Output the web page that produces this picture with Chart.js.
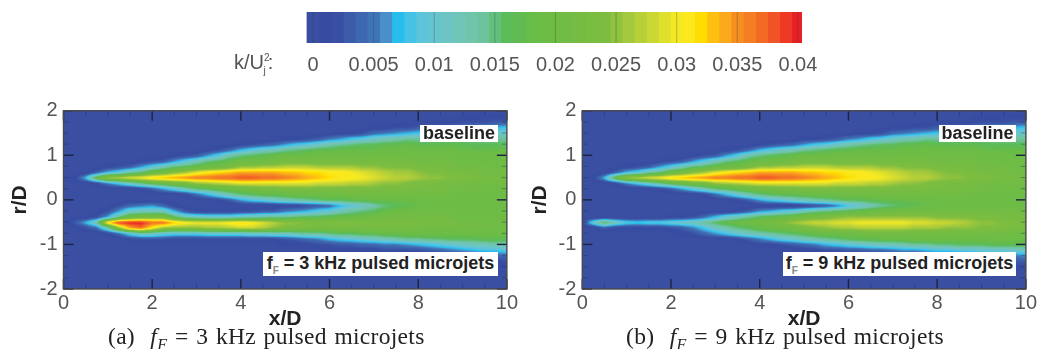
<!DOCTYPE html>
<html>
<head>
<meta charset="utf-8">
<script src="https://cdn.jsdelivr.net/npm/chart.js@4"></script>
<style>
  html, body { margin: 0; padding: 0; background: #fff; overflow: hidden; }
  #page { position: relative; width: 1039px; height: 349px; filter: blur(0.6px); font-family: "Liberation Sans", sans-serif; }
  canvas { position: absolute; }
  .tag { position: absolute; background: #fff; color: #222; font-weight: bold; font-size: 18px; line-height: 17px; text-align: center; white-space: nowrap; box-sizing: border-box; }
  .tag sub, .unit sub, .unit sup { font-size: 10px; line-height: 0; }
  .tag sub { color: #888; }
  .unit { position: absolute; left: 234px; top: 52px; font-size: 20px; line-height: 20px; color: #555; white-space: nowrap; }
  .caption { position: absolute; top: 324px; font-family: "Liberation Serif", serif; font-size: 23.5px; line-height: 24px; letter-spacing: 0.3px; word-spacing: 1.5px; color: #222; white-space: pre; }
  .caption i sub { font-size: 16px; line-height: 0; }
</style>
</head>
<body>
<div id="page">
  <canvas id="colorbar" width="1039" height="90" style="left:0;top:0"></canvas>
  <canvas id="panelA" width="520" height="259" style="left:0;top:90px"></canvas>
  <canvas id="panelB" width="519" height="259" style="left:520px;top:90px"></canvas>
  <div class="unit">k/U<sup>2</sup><sub style="margin-left:-6px">j</sub><span style="margin-left:2px">:</span></div>
  <div class="tag" style="left:420px;top:125px;width:78px;height:17px">baseline</div>
  <div class="tag" style="left:263px;top:252px;width:235px;height:24px;padding-top:3px">f<sub>F</sub> = 3 kHz pulsed microjets</div>
  <div class="tag" style="left:939px;top:125px;width:77px;height:17px">baseline</div>
  <div class="tag" style="left:783px;top:252px;width:233px;height:24px;padding-top:3px">f<sub>F</sub> = 9 kHz pulsed microjets</div>
  <div class="caption" style="left:108px">(a)  <i>f<sub>F</sub></i> = 3 kHz pulsed microjets</div>
  <div class="caption" style="left:626px">(b)  <i>f<sub>F</sub></i> = 9 kHz pulsed microjets</div>
</div>
<script>
// k/Uj^2 in units of 0.001
const columnX = [0,0.25,0.5,0.75, 1,1.25,1.5,1.75, 2,2.25,2.5,2.75, 3,3.25,3.5,3.75, 4,4.25,4.5,4.75, 5,5.25,5.5,5.75, 6,6.25,6.5,6.75, 7,7.25,7.5,7.75, 8,8.25,8.5,8.75, 9,9.25,9.5,9.75, 10];
const upperR = [2,1.875,1.75,1.625,1.5,1.375,1.25,1.125,1,0.875,0.75,0.625,0.5,0.375,0.25,0.125,0];
const lowerR = [-0.125,-0.25,-0.375,-0.5,-0.625,-0.75,-0.875,-1,-1.125,-1.25,-1.375,-1.5,-1.625,-1.75,-1.875,-2];

const baselineUpper = [
  [0,0,0,0, 0,0,0,0, 0,0,0,0, 0,0,0,0, 0,0,0,0, 0,0,0,0, 0,0,0,0, 0,0,0,0, 0,0,0,0, 0,0,0,0, 0],
  [0,0,0,0, 0,0,0,0, 0,0,0,0, 0,0,0,0, 0,0,0,0, 0,0,0,0, 0,0,0,0, 0,0,0,0, 0,0,0,0, 1,1,1,1, 1],
  [0,0,0,0, 0,0,0,0, 0,0,0,0, 0,0,0,0, 0,0,0,0, 0,0,0,0, 0,0,0,0, 0,0,0,0, 1,1,1,1, 2,2,2,3, 3],
  [0,0,0,0, 0,0,0,0, 0,0,0,0, 0,0,0,0, 0,0,0,0, 0,0,0,0, 0,0,0,0, 1,1,2,2, 3,4,4,5, 6,6,7,7, 8],
  [0,0,0,0, 0,0,0,0, 0,0,0,0, 0,0,0,0, 0,0,0,0, 0,0,0,0, 0,1,1,2, 4,5,6,7, 8,8,9,9, 10,10,11,11, 11],
  [0,0,0,0, 0,0,0,0, 0,0,0,0, 0,0,0,0, 0,0,0,0, 1,1,2,3, 5,6,8,9, 11,12,13,14, 14,14,14,14, 14,14,14,14, 14],
  [0,0,0,0, 0,0,0,0, 0,0,0,0, 0,0,0,0, 1,2,3,4, 6,8,9,11, 13,14,15,16, 16,17,17,18, 17,17,17,17, 17,16,16,16, 16],
  [0,0,0,0, 0,0,0,0, 0,0,0,0, 0,1,2,4, 7,9,11,12, 14,15,16,17, 17,18,18,18, 18,19,19,19, 19,19,19,19, 18,18,18,18, 18],
  [0,0,0,0, 0,0,0,0, 0,0,1,2, 3,6,9,13, 15,16,17,18, 19,19,19,20, 20,20,20,20, 20,20,20,20, 20,20,20,20, 19,19,19,19, 19],
  [0,0,0,0, 0,0,0,1, 2,3,6,9, 12,15,16,18, 19,20,20,21, 22,22,22,22, 22,22,22,22, 22,22,22,22, 21,21,21,21, 20,20,20,20, 20],
  [0,0,0,0, 1,2,3,6, 9,12,15,16, 18,19,20,22, 25,25,26,26, 27,27,27,26, 26,26,26,25, 25,24,24,24, 23,22,22,22, 21,21,21,20, 20],
  [0,0,0,3, 7,9,13,15, 19,21,24,26, 29,31,32,33, 34,34,34,34, 33,33,32,32, 31,31,30,29, 28,27,26,26, 25,24,24,23, 22,22,21,21, 21],
  [0,1,7,18, 26,27,29,30, 32,33,34,35, 36,36,37,37, 38,38,37,37, 36,35,34,33, 32,31,31,30, 29,28,27,27, 26,25,25,24, 24,23,22,22, 21],
  [0,0,0,1, 5,8,11,14, 17,19,21,22, 25,26,27,28, 29,29,29,29, 29,29,29,28, 28,28,27,27, 26,25,25,24, 23,23,22,22, 22,21,21,21, 21],
  [0,0,0,0, 0,0,0,1, 3,6,9,12, 15,16,18,19, 20,21,22,22, 23,23,23,23, 23,23,23,23, 23,23,23,23, 22,22,22,21, 21,21,20,20, 20],
  [0,0,0,0, 0,0,0,0, 0,0,0,1, 4,7,10,13, 15,16,17,17, 18,19,19,19, 20,20,21,21, 21,21,21,21, 21,21,21,20, 20,20,20,19, 19],
  [0,0,0,0, 0,0,0,0, 0,0,0,0, 0,0,1,3, 6,8,9,11, 12,13,14,15, 16,16,17,17, 18,18,18,19, 19,19,19,19, 19,19,19,19, 19]
];

const lower3kHz = [
  [0,0,0,0, 0,2,4,5, 6,4,1,0, 0,0,0,0, 0,0,0,0, 1,1,2,3, 4,7,9,11, 13,15,16,17, 18,18,19,19, 19,19,19,19, 19],
  [0,0,0,0, 2,6,11,12, 12,12,7,3, 1,1,1,1, 2,2,3,3, 5,6,7,9, 10,12,14,15, 16,18,19,20, 20,20,20,20, 20,20,20,20, 19],
  [0,0,0,2, 6,14,19,21, 22,22,16,12, 11,10,10,10, 11,12,13,14, 14,15,16,16, 17,18,18,19, 20,21,21,21, 21,21,21,21, 20,20,20,20, 20],
  [0,3,7,13, 32,39,40,40, 37,37,33,31, 30,30,30,31, 32,31,29,27, 25,25,24,24, 24,24,24,23, 23,23,23,23, 22,22,22,22, 21,21,21,21, 20],
  [0,0,2,4, 12,25,34,37, 31,26,25,25, 25,26,26,27, 28,28,27,25, 24,23,22,22, 22,22,22,22, 22,22,22,22, 22,21,21,21, 21,21,20,20, 20],
  [0,0,0,0, 1,4,9,12, 12,10,9,9, 9,10,10,10, 10,11,11,12, 12,13,14,14, 15,16,16,17, 17,18,18,19, 19,19,19,19, 19,19,19,19, 19],
  [0,0,0,0, 0,0,1,2, 2,2,1,1, 1,1,1,1, 1,1,1,1, 2,3,4,5, 7,8,9,10, 11,12,13,14, 14,15,15,16, 16,16,17,17, 17],
  [0,0,0,0, 0,0,0,0, 0,0,0,0, 0,0,0,0, 0,0,0,0, 1,1,1,2, 2,3,3,4, 4,5,5,6, 7,8,9,10, 11,12,12,13, 13],
  [0,0,0,0, 0,0,0,0, 0,0,0,0, 0,0,0,0, 0,0,0,0, 0,0,0,0, 1,1,1,1, 1,2,2,2, 2,3,4,5, 6,7,8,8, 9],
  [0,0,0,0, 0,0,0,0, 0,0,0,0, 0,0,0,0, 0,0,0,0, 0,0,0,0, 0,0,0,0, 0,0,0,0, 1,1,1,2, 2,3,3,4, 4],
  [0,0,0,0, 0,0,0,0, 0,0,0,0, 0,0,0,0, 0,0,0,0, 0,0,0,0, 0,0,0,0, 0,0,0,0, 0,0,0,0, 1,1,1,1, 2],
  [0,0,0,0, 0,0,0,0, 0,0,0,0, 0,0,0,0, 0,0,0,0, 0,0,0,0, 0,0,0,0, 0,0,0,0, 0,0,0,0, 0,0,0,0, 1],
  [0,0,0,0, 0,0,0,0, 0,0,0,0, 0,0,0,0, 0,0,0,0, 0,0,0,0, 0,0,0,0, 0,0,0,0, 0,0,0,0, 0,0,0,0, 0],
  [0,0,0,0, 0,0,0,0, 0,0,0,0, 0,0,0,0, 0,0,0,0, 0,0,0,0, 0,0,0,0, 0,0,0,0, 0,0,0,0, 0,0,0,0, 0],
  [0,0,0,0, 0,0,0,0, 0,0,0,0, 0,0,0,0, 0,0,0,0, 0,0,0,0, 0,0,0,0, 0,0,0,0, 0,0,0,0, 0,0,0,0, 0],
  [0,0,0,0, 0,0,0,0, 0,0,0,0, 0,0,0,0, 0,0,0,0, 0,0,0,0, 0,0,0,0, 0,0,0,0, 0,0,0,0, 0,0,0,0, 0]
];

const lower9kHz = [
  [0,0,0,0, 0,0,0,0, 0,0,0,0, 0,0,0,0, 0,0,0,0, 1,2,3,5, 8,10,12,14, 15,16,17,18, 18,19,19,19, 20,20,20,20, 20],
  [0,0,0,0, 0,0,0,0, 0,0,0,0, 0,0,1,3, 6,7,9,10, 12,14,15,16, 17,18,19,20, 20,21,21,21, 21,21,21,21, 21,21,21,21, 21],
  [0,0,0,0, 0,0,0,0, 1,1,2,4, 7,10,12,14, 16,17,18,19, 21,22,23,24, 25,25,25,25, 25,25,25,25, 24,24,24,24, 23,23,22,22, 22],
  [1,10,17,12, 9,8,9,9, 10,11,12,14, 16,18,19,20, 21,22,24,26, 27,28,28,29, 29,30,30,30, 30,30,29,29, 28,28,27,26, 25,25,24,24, 23],
  [0,0,3,1, 1,1,1,1, 2,3,5,8, 11,13,15,16, 18,19,20,21, 23,24,25,26, 26,27,27,27, 27,27,26,26, 26,25,25,25, 24,24,24,23, 23],
  [0,0,0,0, 0,0,0,0, 0,1,2,4, 6,8,10,12, 13,14,15,16, 17,18,19,19, 20,20,21,21, 21,21,21,21, 21,21,21,21, 21,21,20,20, 20],
  [0,0,0,0, 0,0,0,0, 0,0,0,0, 0,0,1,3, 5,7,9,10, 12,13,14,15, 16,17,17,18, 18,18,19,19, 19,19,19,19, 19,19,19,19, 19],
  [0,0,0,0, 0,0,0,0, 0,0,0,0, 0,0,0,0, 1,1,2,3, 4,5,7,8, 9,10,11,12, 12,13,14,14, 15,15,16,16, 16,17,17,17, 17],
  [0,0,0,0, 0,0,0,0, 0,0,0,0, 0,0,0,0, 0,0,0,0, 1,1,2,2, 3,3,4,4, 5,6,6,7, 8,8,9,9, 10,10,10,11, 11],
  [0,0,0,0, 0,0,0,0, 0,0,0,0, 0,0,0,0, 0,0,0,0, 0,0,0,0, 1,1,1,1, 1,2,2,2, 3,3,3,4, 4,5,5,5, 6],
  [0,0,0,0, 0,0,0,0, 0,0,0,0, 0,0,0,0, 0,0,0,0, 0,0,0,0, 0,0,0,0, 0,0,0,0, 1,1,1,2, 2,2,2,3, 3],
  [0,0,0,0, 0,0,0,0, 0,0,0,0, 0,0,0,0, 0,0,0,0, 0,0,0,0, 0,0,0,0, 0,0,0,0, 0,0,0,0, 1,1,1,1, 1],
  [0,0,0,0, 0,0,0,0, 0,0,0,0, 0,0,0,0, 0,0,0,0, 0,0,0,0, 0,0,0,0, 0,0,0,0, 0,0,0,0, 0,0,0,0, 0],
  [0,0,0,0, 0,0,0,0, 0,0,0,0, 0,0,0,0, 0,0,0,0, 0,0,0,0, 0,0,0,0, 0,0,0,0, 0,0,0,0, 0,0,0,0, 0],
  [0,0,0,0, 0,0,0,0, 0,0,0,0, 0,0,0,0, 0,0,0,0, 0,0,0,0, 0,0,0,0, 0,0,0,0, 0,0,0,0, 0,0,0,0, 0],
  [0,0,0,0, 0,0,0,0, 0,0,0,0, 0,0,0,0, 0,0,0,0, 0,0,0,0, 0,0,0,0, 0,0,0,0, 0,0,0,0, 0,0,0,0, 0]
];

const xTicks = [0,2,4,6,8,10];
const rTicks = [-2,-1,0,1,2];
const xMinorTicks = [0.5,1,1.5,2.5,3,3.5,4.5,5,5.5,6.5,7,7.5,8.5,9,9.5];
const rMinorTicks = [-1.75,-1.5,-1.25,-0.75,-0.5,-0.25,0.25,0.5,0.75,1.25,1.5,1.75];

const colorbarLevels = [0,1,2,3,4,5,6,7,8,9,10,11,12,13,14,15,16,17,18,19,20,21,22,23,24,25,26,27,28,29,30,31,32,33,34,35,36,37,38,39,40];
const colorbarTicks = [0,0.005,0.01,0.015,0.02,0.025,0.03,0.035,0.04];
const colorbarLabels = ['0','0.005','0.01','0.015','0.02','0.025','0.03','0.035','0.04'];

const levelColors = [
  '#3a4ea2','#374ca1','#394fa3','#3c5ca9','#3d67ae','#3f75b6','#4a8fc9','#27bdec','#45c2e5','#5ec4dc',
  '#66c4cf','#6cc5c4','#6fc5b7','#70c4ac','#6dc39e','#62c07c','#5dbc5a','#60bb52','#68bc48','#6cbc46',
  '#6ebc44','#72bc44','#76bc42','#79bd41','#7cbd40','#8fc23e','#a5c93c','#b7d038','#cbd733','#dfe02c',
  '#f2e924','#fce81c','#ffdd00','#fdc010','#faa81c','#f68f20','#f57e25','#f26a24','#f05426','#ee3a24','#e81f24'
];

const textGrey = '#555';
const rowHalf = 0.0625;
const greyStep = 6;   // one k level = 6 grey steps while the cells are on the canvas

function rowDatasets(rows, radii) {
  return rows.map(function(row, i) {
    return {
      data: columnX.map(function(x) { return {x: x, y: [radii[i] - rowHalf, radii[i] + rowHalf]}; }),
      backgroundColor: row.map(function(k) { const g = k * greyStep; return 'rgb(' + g + ',' + g + ',' + g + ')'; }),
      borderWidth: 0,
      barPercentage: 1,
      categoryPercentage: 1,
      grouped: false
    };
  });
}

function hexRgb(hex) {
  return [parseInt(hex.slice(1, 3), 16), parseInt(hex.slice(3, 5), 16), parseInt(hex.slice(5, 7), 16)];
}
const levelRgb = levelColors.map(hexRgb);

function boxPass(src, w, h, n, horizontal) {
  const out = new Float32Array(w * h);
  const half = (n - 1) / 2;
  const along = horizontal ? w : h, across = horizontal ? h : w;
  for (let c = 0; c < across; c++) {
    for (let a = 0; a < along; a++) {
      let sum = 0;
      for (let o = -half; o <= half; o++) {
        const p = Math.min(along - 1, Math.max(0, a + o));
        sum += horizontal ? src[c * w + p] : src[p * w + c];
      }
      out[horizontal ? c * w + a : a * w + c] = sum / n;
    }
  }
  return out;
}

// the cells were put down in grey through the scales, now they are smoothed
// in k itself and coloured with the contour levels, so edges follow the levels
const contourField = {
  id: 'contourField',
  afterDatasetsDraw(chart) {
    const a = chart.chartArea, ctx = chart.ctx;
    const left = Math.round(a.left), top = Math.round(a.top);
    const w = Math.round(a.right) - left, h = Math.round(a.bottom) - top;
    const img = ctx.getImageData(left, top, w, h);
    let k = new Float32Array(w * h);
    for (let i = 0; i < w * h; i++) k[i] = img.data[i * 4] / greyStep;
    k = boxPass(k, w, h, 11, true);
    k = boxPass(k, w, h, 5, false);
    k = boxPass(k, w, h, 3, true);
    k = boxPass(k, w, h, 3, false);
    for (let i = 0; i < w * h; i++) {
      const lo = Math.min(39, Math.floor(k[i])), t = Math.min(1, k[i] - lo);
      for (let c = 0; c < 3; c++) {
        img.data[i * 4 + c] = levelRgb[lo][c] + (levelRgb[lo + 1][c] - levelRgb[lo][c]) * t;
      }
      img.data[i * 4 + 3] = 255;
    }
    ctx.putImageData(img, left, top);
  }
};

function drawTick(ctx, x0, y0, x1, y1) {
  ctx.beginPath();
  ctx.moveTo(x0, y0);
  ctx.lineTo(x1, y1);
  ctx.stroke();
}

const frameTicks = {
  id: 'frameTicks',
  afterDraw(chart) {
    const a = chart.chartArea, ctx = chart.ctx, sx = chart.scales.x, sy = chart.scales.y;
    const pass = function(xs, rs, len, color, width) {
      ctx.strokeStyle = color;
      ctx.lineWidth = width;
      xs.forEach(function(v) {
        const p = sx.getPixelForValue(v);
        drawTick(ctx, p, a.top, p, a.top + len);
        drawTick(ctx, p, a.bottom, p, a.bottom - len);
      });
      rs.forEach(function(v) {
        const p = sy.getPixelForValue(v);
        drawTick(ctx, a.left, p, a.left + len, p);
        drawTick(ctx, a.right, p, a.right - len, p);
      });
    };
    ctx.save();
    pass(xMinorTicks, rMinorTicks, 5, 'rgba(30,45,90,0.4)', 1);
    pass(xTicks, rTicks, 10, '#1c2340', 1.4);
    ctx.strokeStyle = '#4a4a4a';
    ctx.lineWidth = 1.4;
    ctx.strokeRect(a.left, a.top, a.width, a.height);
    ctx.restore();
  }
};

function makePanel(id, rows, leftWidth, rightPad) {
  new Chart(document.getElementById(id), {
    type: 'bar',
    data: {
      datasets: rowDatasets(rows, upperR.concat(lowerR))
    },
    plugins: [contourField, frameTicks],
    options: {
      responsive: false,
      animation: false,
      events: [],
      layout: {padding: {top: 20.7, right: rightPad, left: 0, bottom: 0}},
      plugins: {
        legend: {display: false},
        tooltip: {enabled: false},
        title: {display: false}
      },
      scales: {
        x: {
          type: 'linear',
          offset: false,
          min: 0,
          max: 10,
          grid: {display: false, offset: false, drawTicks: false},
          border: {display: false},
          afterBuildTicks: function(s) { s.ticks = xTicks.map(function(v) { return {value: v}; }); },
          afterFit: function(s) { s.height = 60; },
          ticks: {
            autoSkip: false,
            maxRotation: 0,
            padding: 2,
            color: textGrey,
            font: {family: 'Liberation Sans', size: 20}
          },
          title: {
            display: true,
            text: 'x/D',
            color: '#222',
            font: {family: 'Liberation Sans', size: 21, weight: 'bold'},
            padding: {top: 0, bottom: 17}
          }
        },
        y: {
          type: 'linear',
          min: -2,
          max: 2,
          grid: {display: false, drawTicks: false},
          border: {display: false},
          afterBuildTicks: function(s) { s.ticks = rTicks.map(function(v) { return {value: v}; }); },
          afterFit: function(s) { s.width = leftWidth; },
          ticks: {
            padding: 6,
            color: textGrey,
            font: {family: 'Liberation Sans', size: 20}
          },
          title: {
            display: true,
            text: 'r/D',
            color: '#222',
            font: {family: 'Liberation Sans', size: 21, weight: 'bold'},
            padding: {top: 8, bottom: 0}
          }
        }
      }
    }
  });
}

makePanel('panelA', baselineUpper.concat(lower3kHz), 63.5, 11.5);
makePanel('panelB', baselineUpper.concat(lower9kHz), 62.3, 11.3);

const colorbarMarks = {
  id: 'colorbarMarks',
  afterDraw(chart) {
    const a = chart.chartArea, ctx = chart.ctx, sx = chart.scales.x;
    ctx.save();
    ctx.strokeStyle = 'rgba(50,60,60,0.3)';
    ctx.lineWidth = 1;
    colorbarTicks.forEach(function(v) {
      const p = sx.getPixelForValue(v);
      drawTick(ctx, p, a.top, p, a.bottom);
    });
    ctx.restore();
  }
};

new Chart(document.getElementById('colorbar'), {
  type: 'bar',
  data: {
    labels: ['k'],
    datasets: colorbarLevels.map(function(k) {
      return {
        data: [[(k - 0.5) / 1000, (k + 0.5) / 1000]],
        backgroundColor: levelColors[k],
        borderWidth: 0,
        barPercentage: 1,
        categoryPercentage: 1,
        grouped: false
      };
    })
  },
  plugins: [colorbarMarks],
  options: {
    indexAxis: 'y',
    responsive: false,
    animation: false,
    events: [],
    layout: {padding: {left: 305, right: 237, top: 12, bottom: 0}},
    plugins: {
      legend: {display: false},
      tooltip: {enabled: false},
      title: {display: false}
    },
    scales: {
      x: {
        type: 'linear',
        min: -0.00066,
        max: 0.04034,
        grid: {display: false, drawTicks: false},
        border: {display: false},
        afterBuildTicks: function(s) { s.ticks = colorbarTicks.map(function(v) { return {value: v}; }); },
        afterFit: function(s) { s.height = 47; },
        ticks: {
          autoSkip: false,
          maxRotation: 0,
          padding: 10,
          color: textGrey,
          font: {family: 'Liberation Sans', size: 20},
          callback: function(value, index) { return colorbarLabels[index]; }
        }
      },
      y: {display: false}
    }
  }
});
</script>
</body>
</html>
